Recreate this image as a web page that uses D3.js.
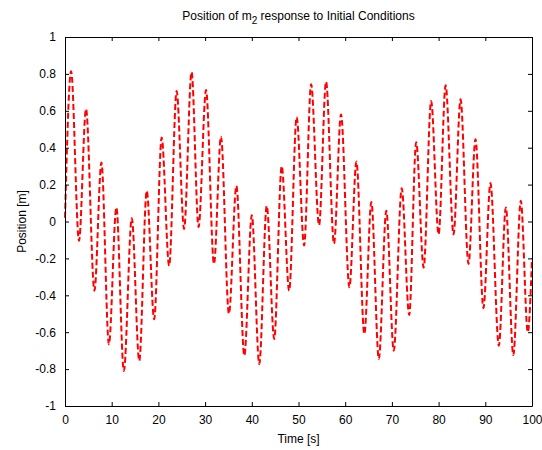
<!DOCTYPE html>
<html>
<head>
<meta charset="utf-8">
<script src="https://cdn.jsdelivr.net/npm/d3@7"></script>
<style>
  body { margin: 0; background: #fff; }
  text { font-family: 'Liberation Sans', Arial, sans-serif; fill: #000; }
</style>
</head>
<body>
<div id="chart"></div>
<script>
// turning points of the m2 response (time in s, position in m)
const timeS = [
  0, 1.3, 3.0, 4.5, 6.3, 7.8, 9.4, 11.0, 12.6, 14.3, 15.9, 17.5, 19.1, 20.7, 22.3,
  23.9, 25.5, 27.1, 28.6, 30.2, 31.9, 33.4, 35.1, 36.7, 38.4, 40.0, 41.6, 43.2, 44.8,
  46.4, 48.0, 49.6, 51.2, 52.7, 54.4, 55.9, 57.6, 59.1, 60.9, 62.4, 64.1, 65.6, 67.2,
  68.8, 70.4, 72.1, 73.7, 75.2, 76.8, 78.4, 80.0, 81.5, 83.2, 84.7, 86.4, 87.9, 89.6,
  91.1, 92.9, 94.4, 96.0, 97.6, 99.1, 100
]
const positionM = [
  0.02, 0.815, -0.105, 0.61, -0.375, 0.32, -0.665, 0.076, -0.81, 0.018, -0.755, 0.166, -0.53, 0.455, -0.24,
  0.707, -0.04, 0.81, -0.03, 0.713, -0.23, 0.46, -0.50, 0.193, -0.727, 0.034, -0.773, 0.085, -0.637,
  0.30, -0.375, 0.566, -0.13, 0.744, -0.02, 0.758, -0.12, 0.58, -0.357, 0.325, -0.61, 0.106, -0.745,
  0.058, -0.70, 0.18, -0.507, 0.43, -0.25, 0.653, -0.07, 0.738, -0.07, 0.662, -0.23, 0.446, -0.47,
  0.208, -0.673, 0.076, -0.724, 0.112, -0.60, -0.20
]
const xTicks = [0, 10, 20, 30, 40, 50, 60, 70, 80, 90, 100]
const yTicks = [-1, -0.8, -0.6, -0.4, -0.2, 0, 0.2, 0.4, 0.6, 0.8, 1]

const width = 542
const height = 450
const margin = { top: 37, right: 10, bottom: 44, left: 65 }
const innerWidth = width - margin.left - margin.right
const innerHeight = height - margin.top - margin.bottom

const data = timeS.map((t, i) => [t, positionM[i]])

const xScale = d3.scaleLinear().domain([0, 100]).range([0, innerWidth])
const yScale = d3.scaleLinear().domain([-1, 1]).range([innerHeight, 0])

const svg = d3.select('#chart').append('svg')
  .attr('width', width)
  .attr('height', height)

const g = svg.append('g')
  .attr('transform', 'translate(' + margin.left + ',' + margin.top + ')')

// the curve
const line = d3.line()
  .x(d => xScale(d[0]))
  .y(d => yScale(d[1]))
  .curve(d3.curveMonotoneX)

g.append('path')
  .datum(data)
  .attr('fill', 'none')
  .attr('stroke', '#ff0000')
  .attr('stroke-width', 2)
  .attr('stroke-dasharray', '6,3')
  .attr('d', line)

// box with inward ticks, matlab style
const fmt = d => String(d)

g.append('g')
  .attr('class', 'x axis')
  .attr('transform', 'translate(0,' + innerHeight + ')')
  .call(d3.axisBottom(xScale).tickValues(xTicks).tickFormat(fmt).tickSizeInner(-4).tickSizeOuter(0).tickPadding(9))

g.append('g')
  .attr('class', 'x axis top')
  .call(d3.axisTop(xScale).tickValues(xTicks).tickSizeInner(-4).tickSizeOuter(0))
  .selectAll('text').remove()

g.append('g')
  .attr('class', 'y axis')
  .call(d3.axisLeft(yScale).tickValues(yTicks).tickFormat(fmt).tickSizeInner(-4).tickSizeOuter(0).tickPadding(9))

g.append('g')
  .attr('class', 'y axis right')
  .attr('transform', 'translate(' + innerWidth + ',0)')
  .call(d3.axisRight(yScale).tickValues(yTicks).tickSizeInner(-4).tickSizeOuter(0))
  .selectAll('text').remove()

g.selectAll('.axis text')
  .style('font-size', '12px')
  .style('font-family', "'Liberation Sans', Arial, sans-serif")

g.selectAll('.axis path, .axis line')
  .attr('stroke', '#000')
  .attr('stroke-width', 1)

// labels
const title = svg.append('text')
  .attr('x', margin.left + innerWidth / 2)
  .attr('y', 20)
  .attr('text-anchor', 'middle')
  .style('font-size', '12px')
title.append('tspan').text('Position of m')
title.append('tspan').attr('dy', 4).style('font-size', '10px').text('2')
title.append('tspan').attr('dy', -4).text(' response to Initial Conditions')

svg.append('text')
  .attr('x', margin.left + innerWidth / 2)
  .attr('y', 443)
  .attr('text-anchor', 'middle')
  .style('font-size', '12px')
  .text('Time [s]')

svg.append('text')
  .attr('transform', 'translate(26,' + (margin.top + innerHeight / 2) + ') rotate(-90)')
  .attr('text-anchor', 'middle')
  .style('font-size', '12px')
  .text('Position [m]')
</script>
</body>
</html>
